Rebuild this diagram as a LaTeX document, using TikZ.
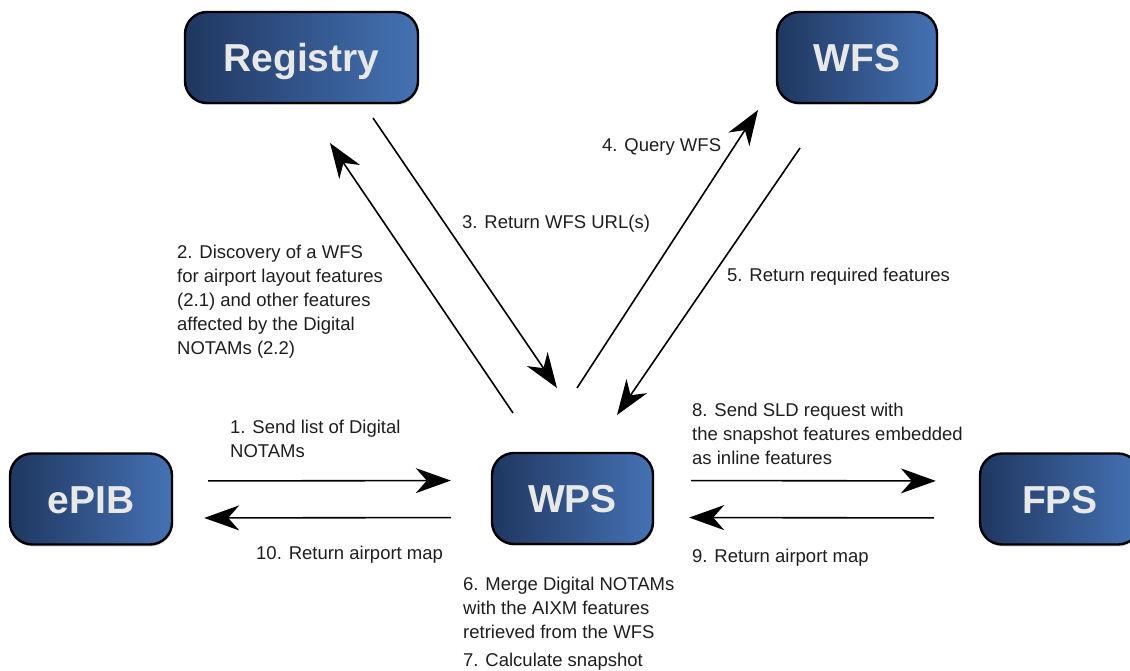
\documentclass[tikz,border=0pt]{standalone}
\usepackage{fontspec}
\setmainfont{Liberation Sans}
\usetikzlibrary{arrows.meta,shadows}

\definecolor{boxdark}{HTML}{1F3760}
\definecolor{boxlight}{HTML}{4572B4}
\definecolor{boxtext}{HTML}{E8E8E8}
\definecolor{labeltext}{HTML}{1E1E1E}

\begin{document}
\begin{tikzpicture}[x=1pt, y=-1pt,
    service/.style={draw=black, line width=2.4pt, rounded corners=22pt,
        left color=boxdark, right color=boxlight, minimum height=91pt,
        text height=28pt, text depth=0pt,
        text=boxtext, font=\fontsize{39}{45}\selectfont\bfseries,
        drop shadow={shadow xshift=1pt, shadow yshift=-2pt, opacity=0.25}},
    msg/.style={anchor=north west, inner sep=0pt, align=left,
        text=labeltext, font=\fontsize{18.5}{24}\selectfont},
    flow/.style={line width=1.6pt, -{Stealth[length=35pt, width=25pt, inset=11pt]}}]
	\useasboundingbox (0,0) rectangle (1130,671);

	\node[service, minimum width=233pt] (registry) at (301.5,57.5) {Registry};
	\node[service, minimum width=160pt] (wfs) at (857,57.5) {WFS};
	\node[service, minimum width=162pt] (epib) at (91,499) {ePIB};
	\node[service, minimum width=161pt] (wps) at (572.5,498.5) {WPS};
	\node[service, minimum width=160pt] (fps) at (1060,499) {FPS};

	\coordinate (discS) at (513,413);
	\coordinate (discE) at (330,143);
	\coordinate (urlS) at (373,118);
	\coordinate (urlE) at (557,388);
	\coordinate (queryS) at (577,388);
	\coordinate (queryE) at (758,110);
	\coordinate (featS) at (800,148);
	\coordinate (featE) at (617,415);

	\draw[flow] (discS) -- (discE);
	\draw[flow] (urlS) -- (urlE);
	\draw[flow] (queryS) -- (queryE);
	\draw[flow] (featS) -- (featE);

	\draw[flow, shorten <=35pt, shorten >=40pt] ([yshift=18pt]epib.east) -- ([yshift=18pt]wps.west);
	\draw[flow, shorten <=40pt, shorten >=31pt] ([yshift=-19pt]wps.west) -- ([yshift=-19pt]epib.east);
	\draw[flow, shorten <=37pt, shorten >=43pt] ([yshift=18pt]wps.east) -- ([yshift=18pt]fps.west);
	\draw[flow, shorten <=45pt, shorten >=35pt] ([yshift=-19pt]fps.west) -- ([yshift=-19pt]wps.east);

	\node[msg] (m1) at (230,420) {1. Send list of Digital\\NOTAMs};
	\node[msg] (m2) at (177,245) {2. Discovery of a WFS\\for airport layout features\\(2.1) and other features\\affected by the Digital\\NOTAMs (2.2)};
	\node[msg] (m3) at (462,215) {3. Return WFS URL(s)};
	\node[msg] (m4) at (602,138) {4. Query WFS};
	\node[msg] (m5) at (727,268) {5. Return required features};
	\node[msg] (m6) at (463,577) {6. Merge Digital NOTAMs\\with the AIXM features\\retrieved from the WFS};
	\node[msg] (m7) at (463,653) {7. Calculate snapshot};
	\node[msg] (m8) at (692,403) {8. Send SLD request with\\the snapshot features embedded\\as inline features};
	\node[msg] (m9) at (692,549) {9. Return airport map};
	\node[msg] (m10) at (256,546) {10. Return airport map};
\end{tikzpicture}
\end{document}
